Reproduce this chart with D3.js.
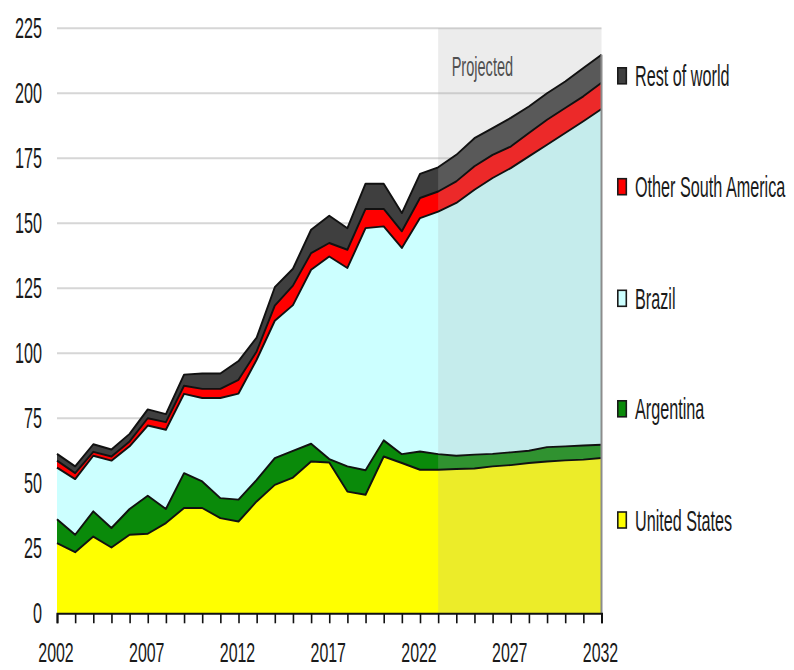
<!DOCTYPE html>
<html>
<head>
<meta charset="utf-8">
<script src="https://cdn.jsdelivr.net/npm/d3@7"></script>
<style>
  html, body { margin: 0; padding: 0; background: #fff; }
  svg { display: block; }
  text { font-family: "Liberation Sans", Arial, sans-serif; fill: #1a1a1a; }
</style>
</head>
<body>
<svg id="chart" width="794" height="670"></svg>
<script>
// Soybean exports by origin, million metric tons (2023 onward projected)
const years = [2002, 2003, 2004, 2005, 2006, 2007, 2008, 2009, 2010, 2011,
               2012, 2013, 2014, 2015, 2016, 2017, 2018, 2019, 2020, 2021,
               2022, 2023, 2024, 2025, 2026, 2027, 2028, 2029, 2030, 2031, 2032];

const unitedStates = [27.0, 23.5, 29.5, 25.3, 30.2, 30.6, 34.7, 40.5, 40.5, 36.6,
                      35.3, 43.0, 49.4, 52.2, 58.4, 58.0, 46.8, 45.6, 60.3, 57.8,
                      55.2, 55.2, 55.5, 55.7, 56.5, 57.0, 57.8, 58.4, 58.8, 59.1, 59.7];

const argentina = [9.2, 6.7, 9.7, 7.5, 9.9, 14.6, 5.4, 13.4, 10.2, 7.7,
                   8.4, 8.3, 10.3, 10.3, 6.8, 1.3, 9.7, 9.4, 6.2, 3.4,
                   7.0, 6.0, 5.1, 5.3, 4.8, 4.9, 4.7, 5.5, 5.4, 5.4, 5.1];

const brazil = [19.8, 21.4, 21.4, 25.9, 24.1, 27.0, 30.5, 30.5, 32.1, 38.5,
                40.8, 46.2, 52.8, 56.0, 66.9, 77.9, 76.3, 93.1, 82.3, 79.3,
                89.8, 93.3, 97.2, 101.9, 106.1, 109.3, 113.2, 116.3, 120.5, 124.7, 129.1];

const otherSouthAmerica = [2.7, 2.3, 1.5, 1.6, 1.9, 2.8, 2.9, 3.1, 3.5, 3.5,
                           5.3, 3.2, 5.8, 7.5, 6.4, 5.2, 7.0, 7.4, 6.7, 6.4,
                           7.7, 7.7, 8.3, 9.0, 8.9, 8.3, 9.0, 9.6, 9.6, 9.6, 10.1];

const restOfWorld = [2.6, 2.6, 2.9, 2.7, 2.9, 3.4, 3.1, 4.3, 5.9, 5.9,
                     7.2, 5.3, 7.1, 6.5, 9.0, 10.5, 8.3, 9.7, 9.7, 7.0,
                     9.3, 9.3, 10.2, 10.8, 10.3, 11.0, 10.2, 10.2, 10.2, 10.9, 10.8];

const seriesNames = ["United States", "Argentina", "Brazil", "Other South America", "Rest of world"];
const seriesColors = ["#ffff00", "#0a8a0a", "#ccffff", "#ff0000", "#3f3f3f"];
const yTickValues = [0, 25, 50, 75, 100, 125, 150, 175, 200, 225];
const xTickLabels = [2002, 2007, 2012, 2017, 2022, 2027, 2032];
const projectedStart = 2023;
const projectedLabel = "Projected";

// ---- layout ----
const svg = d3.select("#chart");
const plot = { left: 57, right: 601.5, top: 28.2, bottom: 613.3 };
const fontSize = 30;
const squeeze = 0.54;   // condensed lettering

const x = d3.scaleLinear().domain([years[0], years[years.length - 1]]).range([plot.left, plot.right]);
const y = d3.scaleLinear().domain([0, 225]).range([plot.bottom, plot.top]);

const valuesByName = {
  "United States": unitedStates,
  "Argentina": argentina,
  "Brazil": brazil,
  "Other South America": otherSouthAmerica,
  "Rest of world": restOfWorld
};
const rows = years.map((yr, i) => {
  const r = { year: yr };
  seriesNames.forEach(n => { r[n] = valuesByName[n][i]; });
  return r;
});
const layers = d3.stack().keys(seriesNames)(rows);

// gridlines
svg.append("g")
  .selectAll("line")
  .data(yTickValues.filter(v => v > 0))
  .join("line")
  .attr("x1", plot.left).attr("x2", plot.right)
  .attr("y1", d => y(d)).attr("y2", d => y(d))
  .attr("stroke", "#d6d6d6").attr("stroke-width", 2);

// stacked areas
const area = d3.area()
  .x(d => x(d.data.year))
  .y0(d => y(d[0]))
  .y1(d => y(d[1]));

svg.append("g")
  .selectAll("path")
  .data(layers)
  .join("path")
  .attr("d", area)
  .attr("fill", (d, i) => seriesColors[i]);

// projected period shading
svg.append("rect")
  .attr("x", x(projectedStart))
  .attr("y", y(225))
  .attr("width", x(years[years.length - 1]) - x(projectedStart))
  .attr("height", y(0) - y(225))
  .attr("fill", "#aeaeae")
  .attr("fill-opacity", 0.235);

// outlines along each layer top
const topLine = d3.line()
  .x(d => x(d.data.year))
  .y(d => y(d[1]));

svg.append("g")
  .selectAll("path")
  .data(layers)
  .join("path")
  .attr("d", topLine)
  .attr("fill", "none")
  .attr("stroke", "#111")
  .attr("stroke-width", 1.9)
  .attr("stroke-linejoin", "round");

// right edge
const lastTotal = layers[layers.length - 1][years.length - 1][1];
svg.append("line")
  .attr("x1", x(years[years.length - 1])).attr("x2", x(years[years.length - 1]))
  .attr("y1", y(0)).attr("y2", y(lastTotal))
  .attr("stroke", "#8c8c8c").attr("stroke-width", 2);

svg.append("text")
  .attr("transform", `translate(${x(projectedStart) + 13.5},76) scale(0.52,1)`)
  .attr("font-size", 28)
  .style("fill", "#505050")
  .text(projectedLabel);

// x axis: a tick every year, labels every five
const xAxis = svg.append("g")
  .attr("transform", `translate(0,${plot.bottom})`)
  .call(d3.axisBottom(x).tickValues(years).tickSize(10).tickFormat(""));
xAxis.select(".domain").attr("stroke", "#111").attr("stroke-width", 2);
xAxis.selectAll(".tick line").attr("stroke", "#111").attr("stroke-width", 1.6);

svg.append("g")
  .selectAll("text")
  .data(xTickLabels)
  .join("text")
  .attr("transform", d => `translate(${x(d) - 1},662) scale(0.57,1)`)
  .attr("text-anchor", "middle")
  .attr("font-size", 28)
  .text(d => d);

// y axis labels
const yAxis = svg.append("g")
  .attr("transform", "translate(42,0)")
  .call(d3.axisLeft(y).tickValues(yTickValues).tickSize(0).tickPadding(0));
yAxis.select(".domain").remove();
yAxis.selectAll(".tick text")
  .attr("font-size", fontSize)
  .attr("font-family", null)
  .attr("transform", `scale(${squeeze},1)`)
  .style("fill", "#1a1a1a");

// legend, top layer first
const legendCenters = [75.8, 186.7, 298.3, 408.8, 520];
const legendOrder = seriesNames.map((n, i) => ({ name: n, color: seriesColors[i] })).reverse();
const legend = svg.append("g")
  .selectAll("g")
  .data(legendOrder)
  .join("g")
  .attr("transform", (d, i) => `translate(617,${legendCenters[i]})`);

legend.append("rect")
  .attr("x", 0.8).attr("y", -8)
  .attr("width", 8.5).attr("height", 16)
  .attr("fill", d => d.color)
  .attr("stroke", "#1a1a1a").attr("stroke-width", 1.6);

legend.append("text")
  .attr("transform", `translate(18,10.5) scale(${squeeze},1)`)
  .attr("font-size", fontSize)
  .text(d => d.name);
</script>
</body>
</html>
